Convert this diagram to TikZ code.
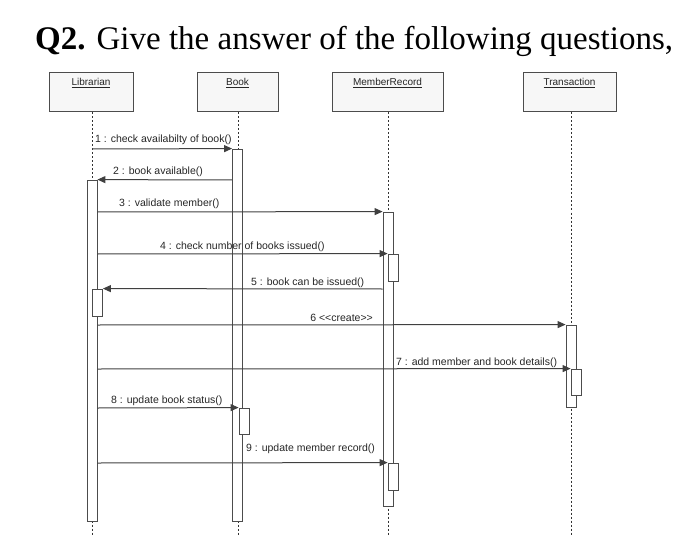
\documentclass[tikz,border=0pt]{standalone}
\usepackage{fontspec}
\setmainfont{Liberation Serif}
\newfontfamily\diagfont{Liberation Sans}
\usetikzlibrary{arrows.meta}
\begin{document}
\begin{tikzpicture}[x=1pt,y=-1pt,
  head/.style={draw=black!70, fill=black!3, line width=1pt, minimum height=39pt, inner sep=0pt},
  headlbl/.style={anchor=north, inner sep=0pt, font=\diagfont\fontsize{10}{12}\selectfont, text=black!85},
  life/.style={draw=black!80, line width=0.9pt, dash pattern=on 2pt off 2pt},
  bar/.style={draw=black!70, fill=white, line width=0.8pt, minimum width=10pt, inner sep=0pt},
  msg/.style={draw=black!75, line width=1pt, -{Triangle[length=8pt,width=7pt]}},
  lbl/.style={anchor=base west, inner sep=0pt, font=\diagfont\fontsize{10.5}{12}\selectfont, text=black!85}
]
\useasboundingbox (0,0) rectangle (700,545);

% title
\node[anchor=base west, inner sep=0pt, font=\fontsize{33}{38}\selectfont] (title) at (35,50)
  {\textbf{Q2.} Give the answer of the following questions,};

% heads
\node[head, minimum width=84pt] (lib) at (91,92.5) {};
\node[head, minimum width=81pt] (book) at (237.5,92.5) {};
\node[head, minimum width=111pt] (mem) at (387.5,92.5) {};
\node[head, minimum width=93pt] (tr) at (569.5,92.5) {};
\node[headlbl] (libL) at ([yshift=-6pt]lib.north) {\underline{Librarian}};
\node[headlbl] (bookL) at ([yshift=-6pt]book.north) {\underline{Book}};
\node[headlbl] (memL) at ([yshift=-6pt]mem.north) {\underline{MemberRecord}};
\node[headlbl] (trL) at ([yshift=-6pt]tr.north) {\underline{Transaction}};

% lifeline ends
\coordinate (libE) at (92,535);
\coordinate (bookE) at (238,535);
\coordinate (memE) at (388,535);
\coordinate (trE) at (571,535);
\draw[life] (lib.south -| libE) -- (libE);
\draw[life] (book.south -| bookE) -- (bookE);
\draw[life] (mem.south -| memE) -- (memE);
\draw[life] (tr.south -| trE) -- (trE);

% activation bars
\node[bar, minimum height=341pt] (libA) at (92,350.5) {};
\node[bar, minimum height=27pt] (libB) at (97.5,302.5) {};
\node[bar, minimum height=372pt] (bookA) at (237.5,335) {};
\node[bar, minimum height=26pt] (bookB) at (244,421) {};
\node[bar, minimum height=294pt] (memA) at (388,359) {};
\node[bar, minimum height=27pt] (memB) at (393,267.5) {};
\node[bar, minimum height=27pt] (memC) at (393,476.5) {};
\node[bar, minimum height=82pt] (trA) at (571,366) {};
\node[bar, minimum height=26pt] (trB) at (576,382) {};

% message rows
\coordinate (m1) at (0,149);
\coordinate (m2) at (0,180);
\coordinate (m3) at (0,212);
\coordinate (m4) at (0,254);
\coordinate (m5) at (0,289);
\coordinate (m6) at (0,325);
\coordinate (m7) at (0,369);
\coordinate (m8) at (0,408);
\coordinate (m9) at (0,463);

\draw[msg] (libA |- m1) -- (bookA.north west);
\draw[msg] (bookA.west |- m2) -- (libA.north east);
\draw[msg] (libA.east |- m3) -- (memA.north west);
\draw[msg] (libA.east |- m4) -- (memB.north west);
\draw[msg] (memA.west |- m5) -- (libB.north east);
\draw[msg] (libA.east |- m6) -- (trA.north west);
\draw[msg] (libA.east |- m7) -- (trB.north west);
\draw[msg] (libA.east |- m8) -- (bookB.north west);
\draw[msg] (libA.east |- m9) -- (memC.north west);

% message labels
\node[lbl] (t1) at (95,143) {1 : check availabilty of book()};
\node[lbl] (t2) at (113,175) {2 : book available()};
\node[lbl] (t3) at (119,206) {3 : validate member()};
\node[lbl] (t4) at (160,249) {4 : check number of books issued()};
\node[lbl] (t5) at (251,285) {5 : book can be issued()};
\node[lbl, anchor=base east] (t6) at (373,321) {6 <{}<create>{}>};
\node[lbl] (t7) at (396,365) {7 : add member and book details()};
\node[lbl] (t8) at (111,403) {8 : update book status()};
\node[lbl] (t9) at (246,451) {9 : update member record()};
\end{tikzpicture}
\end{document}
